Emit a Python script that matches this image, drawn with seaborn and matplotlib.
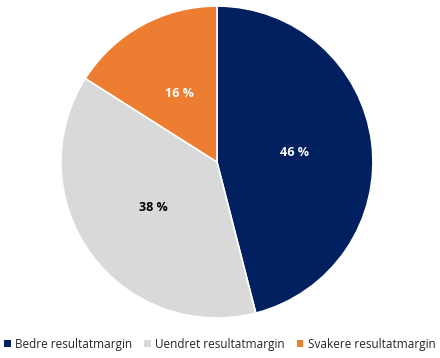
import matplotlib
matplotlib.use("Agg")
import matplotlib.pyplot as plt
import seaborn as sns
from matplotlib.patches import Patch

sns.set_theme(style="white")
plt.rcParams['font.family'] = ['Open Sans', 'DejaVu Sans']

categories = ["Bedre resultatmargin", "Uendret resultatmargin", "Svakere resultatmargin"]
values = [46, 38, 16]
colors = ["#002060", "#D9D9D9", "#ED7D31"]
label_colors = ["white", "black", "white"]

fig = plt.figure(figsize=(4.4, 3.58), dpi=100)
ax = fig.add_axes([0.1386, 0.1117, 0.709, 0.8715])
wedges, texts = ax.pie(values, colors=colors, startangle=90, counterclock=False,
                       labels=[f"{v} %" for v in values], labeldistance=0.5,
                       wedgeprops=dict(edgecolor="white", linewidth=1.2))
for t, c in zip(texts, label_colors):
    t.set_color(c)
    t.set_fontsize(9)
    t.set_fontweight("bold")
    t.set_ha("center")
    t.set_va("center")
ax.set_xlim(-1, 1)
ax.set_ylim(-1, 1)
ax.set_aspect("equal")

handles = [Patch(facecolor=c, edgecolor="none") for c in colors]
fig.legend(handles, categories, loc="center", bbox_to_anchor=(0.5, 0.038), ncol=3,
           frameon=False, fontsize=8.5, handlelength=0.55, handleheight=0.55,
           handletextpad=0.4, columnspacing=1.0)

fig.savefig("out.png", dpi=100)
